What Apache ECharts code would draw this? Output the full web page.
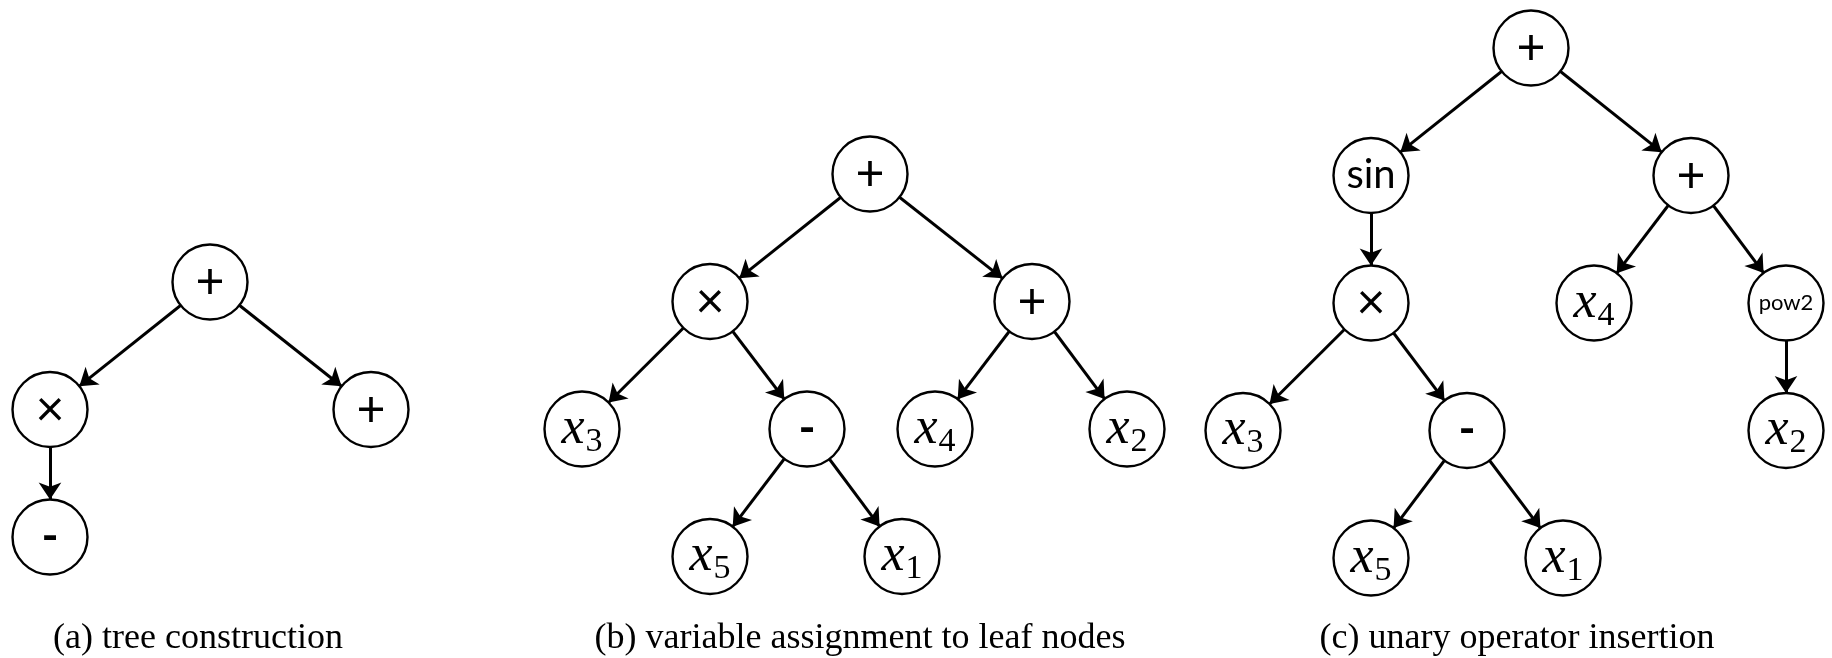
<!DOCTYPE html>
<html>
<head>
<meta charset="utf-8">
<script src="https://cdn.jsdelivr.net/npm/echarts@6/dist/echarts.min.js"></script>
<style>
html, body { margin: 0; padding: 0; background: #fff; }
#main { width: 1832px; height: 658px; }
</style>
</head>
<body>
<div id="main"></div>
<script>
// (a) tree construction
var aLabels = ['+', '×', '+', '-'];
var aX = [210, 50, 371, 50];
var aDepth = [0, 1, 1, 2];
var aEdges = [[0, 1], [0, 2], [1, 3]];

// (b) variable assignment to leaf nodes
var bLabels = ['+', '×', '+', 'x3', '-', 'x4', 'x2', 'x5', 'x1'];
var bX = [870, 710, 1032, 582, 807, 935, 1127, 710, 902];
var bDepth = [0, 1, 1, 2, 2, 2, 2, 3, 3];
var bEdges = [[0, 1], [0, 2], [1, 3], [1, 4], [2, 5], [2, 6], [4, 7], [4, 8]];

// (c) unary operator insertion
var cLabels = ['+', 'sin', '+', '×', 'x4', 'pow2', 'x3', '-', 'x2', 'x5', 'x1'];
var cX = [1531, 1371, 1691, 1371, 1594, 1786, 1243, 1467, 1786, 1371, 1563];
var cDepth = [0, 1, 1, 2, 2, 2, 3, 3, 3, 4, 4];
var cEdges = [[0, 1], [0, 2], [1, 3], [2, 4], [2, 5], [3, 6], [3, 7], [5, 8], [7, 9], [7, 10]];

var captions = ['(a) tree construction', '(b) variable assignment to leaf nodes', '(c) unary operator insertion'];

// layout
var levelGap = 127.5;
var panelTop = [282, 174, 48];
var captionX = [193, 855, 1512];

function nodeLabel(p) {
    var s = p.name;
    if (/^x\d$/.test(s)) return '{v|x}{s|' + s.charAt(1) + '}';
    if (s === 'pow2') return '{p|' + s + '}';
    if (s === 'sin') return '{f|' + s + '}';
    if (s === '-') return '{m|' + s + '}';
    return '{o|' + s + '}';
}

function makeTree(labels, xs, depth, edges, top) {
    return {
        type: 'graph',
        coordinateSystem: 'cartesian2d',
        layout: 'none',
        symbol: 'circle',
        symbolSize: 75,
        edgeSymbol: ['none', 'arrow'],
        edgeSymbolSize: [0, 17],
        itemStyle: { color: '#fff', borderColor: '#000', borderWidth: 2.4 },
        lineStyle: { color: '#000', width: 3, opacity: 1, curveness: 0 },
        emphasis: { disabled: true },
        label: {
            show: true,
            position: 'inside',
            formatter: nodeLabel,
            rich: {
                o: { fontFamily: 'Lato', fontSize: 50, color: '#000' },
                m: { fontFamily: 'Lato', fontWeight: 'bold', fontSize: 46, color: '#000' },
                f: { fontFamily: 'Lato', fontSize: 40, color: '#000' },
                p: { fontFamily: 'Lato', fontSize: 22, color: '#000' },
                v: { fontFamily: 'Liberation Serif', fontStyle: 'italic', fontSize: 52, color: '#000' },
                s: { fontFamily: 'Liberation Serif', fontSize: 34, color: '#000', padding: [26, 0, 0, 1] }
            }
        },
        data: labels.map(function (l, i) {
            return { id: 'n' + i, name: l, value: [xs[i], top + depth[i] * levelGap] };
        }),
        links: edges.map(function (e) {
            return { source: e[0], target: e[1] };
        })
    };
}

var chart = echarts.init(document.getElementById('main'), null, { renderer: 'canvas' });
chart.setOption({
    animation: false,
    backgroundColor: '#fff',
    grid: { left: 0, right: 0, top: 0, bottom: 0 },
    xAxis: { type: 'value', min: 0, max: 1832, show: false },
    yAxis: { type: 'value', min: 0, max: 658, inverse: true, show: false },
    title: captions.map(function (t, i) {
        return {
            text: t,
            left: captionX[i],
            top: 616,
            textAlign: 'center',
            textStyle: { fontFamily: 'Liberation Serif', fontSize: 36, fontWeight: 'normal', color: '#000' }
        };
    }),
    series: [
        makeTree(aLabels, aX, aDepth, aEdges, panelTop[0]),
        makeTree(bLabels, bX, bDepth, bEdges, panelTop[1]),
        makeTree(cLabels, cX, cDepth, cEdges, panelTop[2])
    ]
});
</script>
</body>
</html>
